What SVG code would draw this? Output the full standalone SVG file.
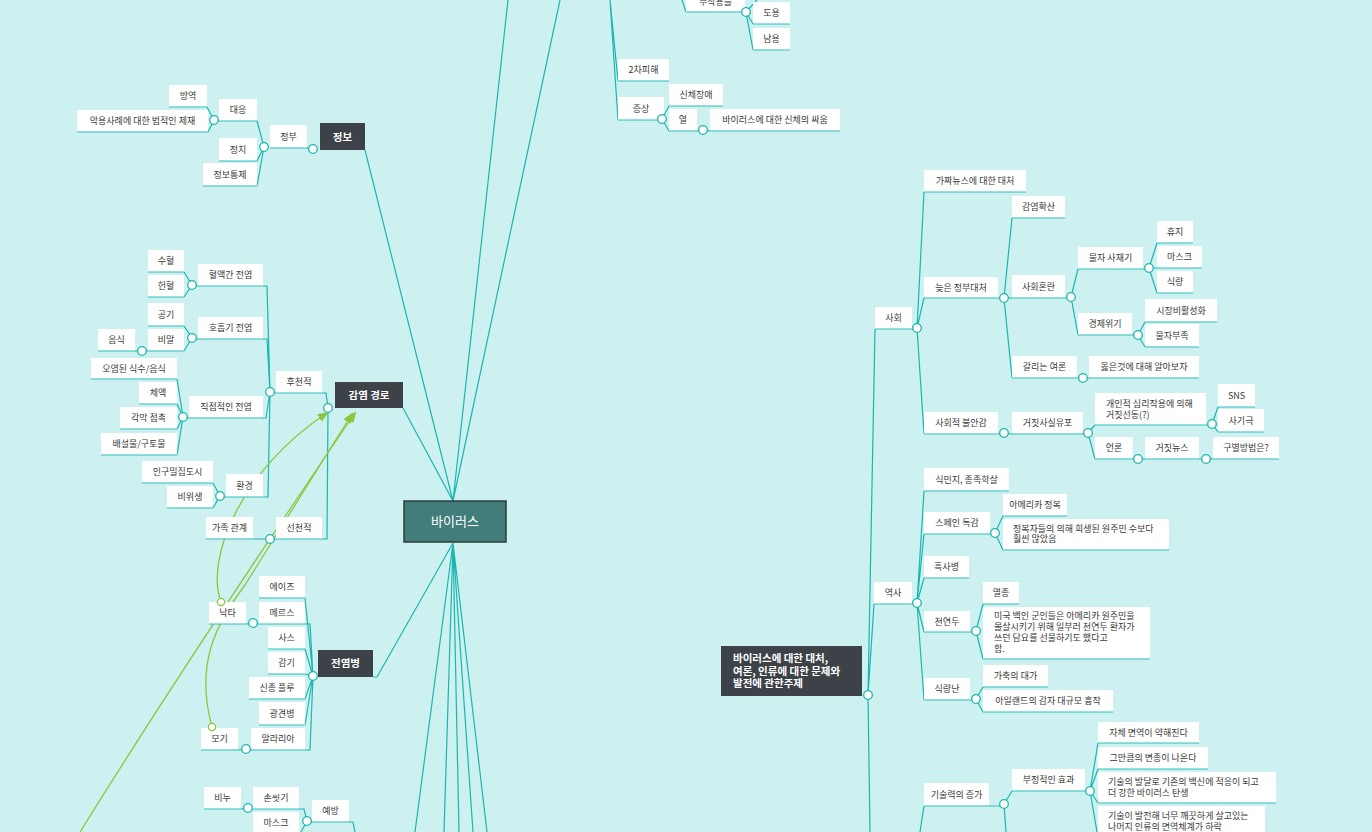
<svg xmlns="http://www.w3.org/2000/svg" width="1372" height="832" viewBox="0 0 1372 832">
<defs>
<style>
.bg{fill:#ccf1f0}
.b{fill:#fff}
.u{stroke:#2dc0ba;stroke-width:1.2}
.t{font-family:"Noto Sans CJK KR","Noto Sans",sans-serif;font-size:9px;fill:#383838;text-anchor:middle}
.tl{font-family:"Noto Sans CJK KR","Noto Sans",sans-serif;font-size:9px;fill:#383838}
.d{fill:#3d4249}
.dt{font-family:"Noto Sans CJK KR","Noto Sans",sans-serif;font-size:10.5px;font-weight:bold;fill:#fff;text-anchor:middle}
.dtl{font-family:"Noto Sans CJK KR","Noto Sans",sans-serif;font-size:10.5px;font-weight:bold;fill:#fff}
.l{stroke:#1cb5b0;stroke-width:1.2;fill:none}
.c{fill:#fff;stroke:#1cb5b0;stroke-width:1.3}
.g{stroke:#8cc63f;stroke-width:1.3;fill:none;marker-end:url(#ah)}
.gc{fill:#fff;stroke:#8cc63f;stroke-width:1.3}
</style>
<marker id="ah" markerWidth="11" markerHeight="9" refX="9" refY="4.5" orient="auto" markerUnits="userSpaceOnUse">
<path d="M0,0 L11,4.5 L0,9 z" fill="#8cc63f"/>
</marker>
</defs>
<rect class="bg" x="0" y="0" width="1372" height="832"/>

<g id="connectors">
<!-- root fan -->
<path class="l" d="M365,150 L453,501 M403,408 L453,501 M508,0 L453,501 M560,0 L453,501"/>
<path class="l" d="M453,543 L377,677 L373,677 M453,543 L415,832 M453,543 L444,832 M453,543 L459,832 M453,543 L473,832 M453,543 L487,832"/>
<!-- top -->
<path class="l" d="M610,0 L618,81 M610,0 L618,120 M662,119 L669,106 M662,119 L669,131 M703,130 L710,131"/>
<path class="l" d="M682,0 L686,12 M746,12 L753,24 M746,12 L753,50 M746,12 L757,0"/>
<!-- 정보 -->
<path class="l" d="M307,148 L313,149 M264,147 L257,121 M264,147 L257,161 M264,147 L257,186 M214,120 L207,107 M214,120 L208,132"/>
<!-- 감염 경로 -->
<path class="l" d="M322,393 L326,393 L328,408 M322,539 L327,539 L328,408"/>
<path class="l" d="M263,286 L267,286 L270,392 M263,339 L267,339 L270,392 M263,418 L266,418 L270,392 M263,497 L268,497 L270,392"/>
<path class="l" d="M192,285 L184,272 M192,285 L184,297 M192,338 L184,326 M192,338 L184,351 M142,351 L135,351"/>
<path class="l" d="M183,417 L177,379 M183,417 L177,404 M183,417 L177,429 M183,417 L177,455 M220,496 L213,483 M220,496 L213,508 M270,539 L253,539"/>
<!-- 전염병 -->
<path class="l" d="M313,676 L305,598 M305,624 L310,624 L313,676 M313,676 L305,649 M313,676 L305,674 M313,676 L305,699 M313,676 L305,725 M305,750 L310,750 L313,676"/>
<path class="l" d="M253,623 L246,624 M246,749 L238,750"/>
<path class="l" d="M349,822 L353,822 L355,832 M299,809 L304,809 L307,821 M307,821 L301,832 M248,808 L241,809"/>
<!-- right main -->
<path class="l" d="M868,695 L875,329 M868,695 L874,604 M868,695 L870,832"/>
<path class="l" d="M917,328 L924,192 M917,328 L924,298 M917,328 L924,434"/>
<path class="l" d="M1004,298 L1012,218 M1004,298 L1012,298 M1004,298 L1012,378"/>
<path class="l" d="M1071,297 L1078,269 M1071,297 L1078,335"/>
<path class="l" d="M1149,268 L1157,243 M1149,268 L1157,268 M1149,268 L1157,293 M1138,335 L1145,322 M1138,335 L1145,347 M1083,378 L1089,378"/>
<path class="l" d="M1004,433 L1012,434 M1088,433 L1095,425 M1088,433 L1095,459 M1212,424 L1218,407 M1212,424 L1218,432 M1138,459 L1145,459 M1206,459 L1213,459"/>
<path class="l" d="M917,603 L924,491 M917,603 L924,534 M917,603 L924,578 M917,603 L924,632 M917,603 L924,700"/>
<path class="l" d="M995,533 L1003,516 M995,533 L1003,550 M976,631 L983,604 M976,631 L983,659 M976,699 L983,687 M976,699 L983,712"/>
<path class="l" d="M924,806 L920,832 M1004,804 L1012,791 M1004,804 L1006,832 M1090,791 L1098,743 M1090,791 L1098,769 M1090,791 L1098,803 M1090,791 L1097,832"/>
</g>

<g id="relations">
<path class="g" d="M221,602 C205,560 240,470 327,413"/>
<path class="g" d="M212,727 C195,665 215,625 245,585 L352,414"/>
<path class="g" d="M80,832 Q190,655 355,413"/>
</g>

<g id="root"><rect x="404" y="501" width="102" height="41" fill="#407d7b" stroke="#2e3d3d" stroke-width="1.5"/><text x="455" y="526" font-family="Noto Sans CJK KR, Noto Sans, sans-serif" font-size="13" fill="#fff" text-anchor="middle">바이러스</text></g>

<g id="n-bujak"><rect class="b" x="686" y="-10" width="59" height="22"/><line class="u" x1="686" y1="12" x2="745" y2="12"/><text class="t" x="715.5" y="4.5">부작용들</text><circle class="c" cx="746" cy="12" r="4.3"/></g>
<g id="n-doyong"><rect class="b" x="753" y="2" width="37" height="22"/><line class="u" x1="753" y1="24" x2="790" y2="24"/><text class="t" x="771.5" y="16.2">도용</text></g>
<g id="n-namyong"><rect class="b" x="753" y="28" width="37" height="22"/><line class="u" x1="753" y1="50" x2="790" y2="50"/><text class="t" x="771.5" y="42.2">남용</text></g>
<g id="n-2cha"><rect class="b" x="618" y="59" width="51" height="22"/><line class="u" x1="618" y1="81" x2="669" y2="81"/><text class="t" x="643.5" y="73.2">2차피해</text></g>
<g id="n-jeungsang"><rect class="b" x="618" y="97" width="46" height="23"/><line class="u" x1="618" y1="120" x2="664" y2="120"/><text class="t" x="641" y="111.7">증상</text><circle class="c" cx="662" cy="119" r="4.3"/></g>
<g id="n-sinche"><rect class="b" x="669" y="84" width="54" height="22"/><line class="u" x1="669" y1="106" x2="723" y2="106"/><text class="t" x="696" y="98.2">신체장애</text></g>
<g id="n-yeol"><rect class="b" x="669" y="109" width="28" height="22"/><line class="u" x1="669" y1="131" x2="703" y2="131"/><text class="t" x="683" y="123.2">열</text><circle class="c" cx="703" cy="130" r="4.3"/></g>
<g id="n-ssaum"><rect class="b" x="710" y="109" width="130" height="22"/><line class="u" x1="710" y1="131" x2="840" y2="131"/><text class="t" x="775" y="123.2">바이러스에 대한 신체의 싸움</text></g>

<g id="n-jeongbo"><rect class="d" x="320" y="123" width="45" height="27"/><text class="dt" x="342.5" y="140.5">정보</text><circle class="c" cx="313" cy="149" r="4.3"/></g>
<g id="n-jeongbu"><rect class="b" x="270" y="125" width="37" height="23"/><line class="u" x1="270" y1="148" x2="309" y2="148"/><text class="t" x="288.5" y="139.7">정부</text><circle class="c" cx="264" cy="147" r="4.3"/></g>
<g id="n-daeeung"><rect class="b" x="219" y="99" width="38" height="22"/><line class="u" x1="214" y1="121" x2="257" y2="121"/><text class="t" x="238" y="113.2">대응</text><circle class="c" cx="214" cy="120" r="4.3"/></g>
<g id="n-bangyeok"><rect class="b" x="169" y="85" width="38" height="22"/><line class="u" x1="169" y1="107" x2="207" y2="107"/><text class="t" x="188" y="99.2">방역</text></g>
<g id="n-aknyong"><rect class="b" x="77" y="110" width="131" height="22"/><line class="u" x1="77" y1="132" x2="208" y2="132"/><text class="t" x="142.5" y="124.2">악용사례에 대한 법적인 제재</text></g>
<g id="n-jeongchi"><rect class="b" x="219" y="138" width="38" height="23"/><line class="u" x1="219" y1="161" x2="257" y2="161"/><text class="t" x="238" y="152.7">정치</text></g>
<g id="n-tongje"><rect class="b" x="203" y="163" width="54" height="23"/><line class="u" x1="203" y1="186" x2="257" y2="186"/><text class="t" x="230" y="177.7">정보통제</text></g>

<g id="n-gamyeom"><rect class="d" x="335" y="382" width="68" height="26"/><text class="dt" x="369" y="398.8">감염 경로</text></g>
<g id="n-hucheon"><rect class="b" x="276" y="371" width="46" height="22"/><line class="u" x1="270" y1="393" x2="322" y2="393"/><text class="t" x="299" y="385.2">후천적</text><circle class="c" cx="270" cy="392" r="4.3"/></g>
<g id="n-hyeolaek"><rect class="b" x="198" y="264" width="65" height="22"/><line class="u" x1="192" y1="286" x2="263" y2="286"/><text class="t" x="230.5" y="278.2">혈액간 전염</text><circle class="c" cx="192" cy="285" r="4.3"/></g>
<g id="n-hoheup"><rect class="b" x="198" y="317" width="65" height="22"/><line class="u" x1="192" y1="339" x2="263" y2="339"/><text class="t" x="230.5" y="331.2">호흡기 전염</text><circle class="c" cx="192" cy="338" r="4.3"/></g>
<g id="n-jikjeop"><rect class="b" x="189" y="396" width="74" height="22"/><line class="u" x1="183" y1="418" x2="263" y2="418"/><text class="t" x="226" y="410.2">직접적인 전염</text><circle class="c" cx="183" cy="417" r="4.3"/></g>
<g id="n-hwangyeong"><rect class="b" x="226" y="474" width="37" height="23"/><line class="u" x1="220" y1="497" x2="263" y2="497"/><text class="t" x="244.5" y="488.7">환경</text><circle class="c" cx="220" cy="496" r="4.3"/></g>
<g id="n-suhyeol"><rect class="b" x="148" y="250" width="36" height="22"/><line class="u" x1="148" y1="272" x2="184" y2="272"/><text class="t" x="166" y="264.2">수혈</text></g>
<g id="n-heonhyeol"><rect class="b" x="148" y="275" width="36" height="22"/><line class="u" x1="148" y1="297" x2="184" y2="297"/><text class="t" x="166" y="289.2">헌혈</text></g>
<g id="n-gonggi"><rect class="b" x="148" y="303" width="36" height="23"/><line class="u" x1="148" y1="326" x2="184" y2="326"/><text class="t" x="166" y="317.7">공기</text></g>
<g id="n-bimal"><rect class="b" x="148" y="329" width="36" height="22"/><line class="u" x1="142" y1="351" x2="184" y2="351"/><text class="t" x="166" y="343.2">비말</text><circle class="c" cx="142" cy="351" r="4.3"/></g>
<g id="n-eumsik"><rect class="b" x="98" y="329" width="37" height="22"/><line class="u" x1="98" y1="351" x2="135" y2="351"/><text class="t" x="116.5" y="343.2">음식</text></g>
<g id="n-oyeom"><rect class="b" x="91" y="358" width="86" height="21"/><line class="u" x1="91" y1="379" x2="177" y2="379"/><text class="t" x="134" y="371.7">오염된 식수/음식</text></g>
<g id="n-cheaek"><rect class="b" x="139" y="382" width="38" height="22"/><line class="u" x1="139" y1="404" x2="177" y2="404"/><text class="t" x="158" y="396.2">체액</text></g>
<g id="n-gakmak"><rect class="b" x="120" y="407" width="57" height="22"/><line class="u" x1="120" y1="429" x2="177" y2="429"/><text class="t" x="148.5" y="421.2">각막 접촉</text></g>
<g id="n-baeseol"><rect class="b" x="101" y="433" width="76" height="22"/><line class="u" x1="101" y1="455" x2="177" y2="455"/><text class="t" x="139" y="447.2">배설물/구토물</text></g>
<g id="n-ingu"><rect class="b" x="142" y="461" width="71" height="22"/><line class="u" x1="142" y1="483" x2="213" y2="483"/><text class="t" x="177.5" y="475.2">인구밀집도시</text></g>
<g id="n-biwisaeng"><rect class="b" x="167" y="486" width="46" height="22"/><line class="u" x1="167" y1="508" x2="213" y2="508"/><text class="t" x="190" y="500.2">비위생</text></g>
<g id="n-seoncheon"><rect class="b" x="276" y="517" width="46" height="22"/><line class="u" x1="270" y1="539" x2="322" y2="539"/><text class="t" x="299" y="531.2">선천적</text><circle class="c" cx="270" cy="539" r="4.3"/></g>
<g id="n-gajok"><rect class="b" x="206" y="517" width="47" height="22"/><line class="u" x1="206" y1="539" x2="253" y2="539"/><text class="t" x="229.5" y="531.2">가족 관계</text></g>
<circle class="c" cx="328" cy="408" r="4.3"/>

<g id="n-jeonyeom"><rect class="d" x="318" y="650" width="55" height="27"/><text class="dt" x="345.5" y="667.3">전염병</text><circle class="c" cx="313" cy="676" r="4.3"/></g>
<g id="n-aids"><rect class="b" x="259" y="576" width="46" height="22"/><line class="u" x1="259" y1="598" x2="305" y2="598"/><text class="t" x="282" y="590.2">에이즈</text></g>
<g id="n-mers"><rect class="b" x="259" y="602" width="46" height="22"/><line class="u" x1="253" y1="624" x2="305" y2="624"/><text class="t" x="282" y="616.2">메르스</text><circle class="c" cx="253" cy="623" r="4.3"/></g>
<g id="n-sars"><rect class="b" x="268" y="627" width="37" height="22"/><line class="u" x1="268" y1="649" x2="305" y2="649"/><text class="t" x="286.5" y="641.2">사스</text></g>
<g id="n-gamgi"><rect class="b" x="268" y="652" width="37" height="22"/><line class="u" x1="268" y1="674" x2="305" y2="674"/><text class="t" x="286.5" y="666.2">감기</text></g>
<g id="n-flu"><rect class="b" x="249" y="677" width="56" height="22"/><line class="u" x1="249" y1="699" x2="305" y2="699"/><text class="t" x="277" y="691.2">신종 플루</text></g>
<g id="n-gwanggyeon"><rect class="b" x="259" y="702" width="46" height="23"/><line class="u" x1="259" y1="725" x2="305" y2="725"/><text class="t" x="282" y="716.7">광견병</text></g>
<g id="n-malaria"><rect class="b" x="251" y="728" width="54" height="22"/><line class="u" x1="246" y1="750" x2="305" y2="750"/><text class="t" x="278" y="742.2">말라리아</text><circle class="c" cx="246" cy="749" r="4.3"/></g>
<g id="n-nakta"><rect class="b" x="209" y="602" width="37" height="22"/><line class="u" x1="209" y1="624" x2="246" y2="624"/><text class="t" x="227.5" y="616.2">낙타</text><circle class="gc" cx="221" cy="602" r="3.6"/></g>
<g id="n-mogi"><rect class="b" x="201" y="728" width="37" height="22"/><line class="u" x1="201" y1="750" x2="238" y2="750"/><text class="t" x="219.5" y="742.2">모기</text><circle class="gc" cx="212" cy="727" r="3.6"/></g>
<g id="n-yebang"><rect class="b" x="312" y="800" width="37" height="22"/><line class="u" x1="307" y1="822" x2="349" y2="822"/><text class="t" x="330.5" y="814.2">예방</text><circle class="c" cx="307" cy="821" r="4.3"/></g>
<g id="n-sonssit"><rect class="b" x="253" y="787" width="46" height="22"/><line class="u" x1="248" y1="809" x2="299" y2="809"/><text class="t" x="276" y="801.2">손씻기</text><circle class="c" cx="248" cy="808" r="4.3"/></g>
<g id="n-binu"><rect class="b" x="204" y="787" width="37" height="22"/><line class="u" x1="204" y1="809" x2="241" y2="809"/><text class="t" x="222.5" y="801.2">비누</text></g>
<g id="n-mask1"><rect class="b" x="253" y="812" width="46" height="24"/><text class="t" x="276" y="826.2">마스크</text></g>

<g id="n-main"><rect class="d" x="721" y="646" width="141" height="50"/><text class="dtl" x="733" y="662">바이러스에 대한 대처,</text><text class="dtl" x="733" y="674.5">여론, 인류에 대한 문제와</text><text class="dtl" x="733" y="687">발전에 관한주제</text><circle class="c" cx="868" cy="695" r="4.3"/></g>

<g id="n-sahoe"><rect class="b" x="875" y="307" width="37" height="22"/><line class="u" x1="875" y1="329" x2="917" y2="329"/><text class="t" x="893.5" y="321.2">사회</text><circle class="c" cx="917" cy="328" r="4.3"/></g>
<g id="n-gajja"><rect class="b" x="924" y="170" width="102" height="22"/><line class="u" x1="924" y1="192" x2="1026" y2="192"/><text class="t" x="975" y="184.2">가짜뉴스에 대한 대처</text></g>
<g id="n-neujeun"><rect class="b" x="924" y="277" width="74" height="21"/><line class="u" x1="924" y1="298" x2="1004" y2="298"/><text class="t" x="961" y="290.7">늦은 정부대처</text><circle class="c" cx="1004" cy="298" r="4.3"/></g>
<g id="n-bulan"><rect class="b" x="924" y="412" width="74" height="22"/><line class="u" x1="924" y1="434" x2="1004" y2="434"/><text class="t" x="961" y="426.2">사회적 불안감</text><circle class="c" cx="1004" cy="433" r="4.3"/></g>
<g id="n-hwaksan"><rect class="b" x="1012" y="196" width="53" height="22"/><line class="u" x1="1012" y1="218" x2="1065" y2="218"/><text class="t" x="1038.5" y="210.2">감염확산</text></g>
<g id="n-honran"><rect class="b" x="1012" y="275" width="53" height="23"/><line class="u" x1="1012" y1="298" x2="1071" y2="298"/><text class="t" x="1038.5" y="289.7">사회혼란</text><circle class="c" cx="1071" cy="297" r="4.3"/></g>
<g id="n-yeoron"><rect class="b" x="1012" y="356" width="65" height="22"/><line class="u" x1="1012" y1="378" x2="1083" y2="378"/><text class="t" x="1044.5" y="370.2">갈리는 여론</text><circle class="c" cx="1083" cy="378" r="4.3"/></g>
<g id="n-olbeun"><rect class="b" x="1089" y="356" width="110" height="22"/><line class="u" x1="1089" y1="378" x2="1199" y2="378"/><text class="t" x="1144" y="370.2">옳은것에 대해 알아보자</text></g>
<g id="n-sajaegi"><rect class="b" x="1078" y="247" width="65" height="22"/><line class="u" x1="1078" y1="269" x2="1149" y2="269"/><text class="t" x="1110.5" y="261.2">물자 사재기</text><circle class="c" cx="1149" cy="268" r="4.3"/></g>
<g id="n-gyeongje"><rect class="b" x="1078" y="313" width="54" height="22"/><line class="u" x1="1078" y1="335" x2="1138" y2="335"/><text class="t" x="1105" y="327.2">경제위기</text><circle class="c" cx="1138" cy="335" r="4.3"/></g>
<g id="n-hyuji"><rect class="b" x="1157" y="221" width="36" height="22"/><line class="u" x1="1157" y1="243" x2="1193" y2="243"/><text class="t" x="1175" y="235.2">휴지</text></g>
<g id="n-mask2"><rect class="b" x="1157" y="246" width="45" height="22"/><line class="u" x1="1157" y1="268" x2="1202" y2="268"/><text class="t" x="1179.5" y="260.2">마스크</text></g>
<g id="n-sikryang"><rect class="b" x="1157" y="271" width="36" height="22"/><line class="u" x1="1157" y1="293" x2="1193" y2="293"/><text class="t" x="1175" y="285.2">식량</text></g>
<g id="n-sijang"><rect class="b" x="1145" y="299" width="72" height="23"/><line class="u" x1="1145" y1="322" x2="1217" y2="322"/><text class="t" x="1181" y="313.7">시장비활성화</text></g>
<g id="n-bujok"><rect class="b" x="1145" y="324" width="54" height="23"/><line class="u" x1="1145" y1="347" x2="1199" y2="347"/><text class="t" x="1172" y="338.7">물자부족</text></g>
<g id="n-geojitsasil"><rect class="b" x="1012" y="412" width="71" height="22"/><line class="u" x1="1012" y1="434" x2="1088" y2="434"/><text class="t" x="1047.5" y="426.2">거짓사실유포</text><circle class="c" cx="1088" cy="433" r="4.3"/></g>
<g id="n-gaein"><rect class="b" x="1095" y="393" width="111" height="32"/><line class="u" x1="1095" y1="425" x2="1212" y2="425"/><text class="tl" x="1106" y="407">개인적 심리작용에 의해</text><text class="tl" x="1106" y="417.5">거짓선동(?)</text><circle class="c" cx="1212" cy="424" r="4.3"/></g>
<g id="n-sns"><rect class="b" x="1218" y="384" width="37" height="23"/><line class="u" x1="1218" y1="407" x2="1255" y2="407"/><text class="t" x="1236.5" y="398.7">SNS</text></g>
<g id="n-sagiguk"><rect class="b" x="1218" y="409" width="46" height="23"/><line class="u" x1="1218" y1="432" x2="1264" y2="432"/><text class="t" x="1241" y="423.7">사기극</text></g>
<g id="n-eonron"><rect class="b" x="1095" y="437" width="38" height="22"/><line class="u" x1="1095" y1="459" x2="1138" y2="459"/><text class="t" x="1114" y="451.2">언론</text><circle class="c" cx="1138" cy="459" r="4.3"/></g>
<g id="n-geojitnews"><rect class="b" x="1145" y="437" width="54" height="22"/><line class="u" x1="1145" y1="459" x2="1206" y2="459"/><text class="t" x="1172" y="451.2">거짓뉴스</text><circle class="c" cx="1206" cy="459" r="4.3"/></g>
<g id="n-gubyeol"><rect class="b" x="1213" y="437" width="66" height="22"/><line class="u" x1="1213" y1="459" x2="1279" y2="459"/><text class="t" x="1246" y="451.2">구별방법은?</text></g>

<g id="n-yeoksa"><rect class="b" x="874" y="582" width="38" height="22"/><line class="u" x1="874" y1="604" x2="917" y2="604"/><text class="t" x="893" y="596.2">역사</text><circle class="c" cx="917" cy="603" r="4.3"/></g>
<g id="n-sikminji"><rect class="b" x="924" y="468" width="85" height="23"/><line class="u" x1="924" y1="491" x2="1009" y2="491"/><text class="t" x="966.5" y="482.7">식민지, 종족학살</text></g>
<g id="n-spain"><rect class="b" x="924" y="512" width="66" height="22"/><line class="u" x1="924" y1="534" x2="995" y2="534"/><text class="t" x="957" y="526.2">스페인 독감</text><circle class="c" cx="995" cy="533" r="4.3"/></g>
<g id="n-heuksa"><rect class="b" x="924" y="556" width="45" height="22"/><line class="u" x1="924" y1="578" x2="969" y2="578"/><text class="t" x="946.5" y="570.2">흑사병</text></g>
<g id="n-cheonyeondu"><rect class="b" x="924" y="611" width="46" height="21"/><line class="u" x1="924" y1="632" x2="976" y2="632"/><text class="t" x="947" y="624.7">천연두</text><circle class="c" cx="976" cy="631" r="4.3"/></g>
<g id="n-sikryangnan"><rect class="b" x="924" y="678" width="46" height="22"/><line class="u" x1="924" y1="700" x2="976" y2="700"/><text class="t" x="947" y="692.2">식량난</text><circle class="c" cx="976" cy="699" r="4.3"/></g>
<g id="n-america"><rect class="b" x="1003" y="494" width="64" height="22"/><line class="u" x1="1003" y1="516" x2="1067" y2="516"/><text class="t" x="1035" y="508.2">아메리카 정복</text></g>
<g id="n-jeongbokja"><rect class="b" x="1003" y="519" width="166" height="31"/><line class="u" x1="1003" y1="550" x2="1169" y2="550"/><text class="tl" x="1013" y="531.5">정복자들의 의해 희생된 원주민 수보다</text><text class="tl" x="1013" y="542">훨씬 많았음</text></g>
<g id="n-myeoljong"><rect class="b" x="983" y="582" width="36" height="22"/><line class="u" x1="983" y1="604" x2="1019" y2="604"/><text class="t" x="1001" y="596.2">멸종</text></g>
<g id="n-miguk"><rect class="b" x="983" y="607" width="167" height="52"/><line class="u" x1="983" y1="659" x2="1150" y2="659"/><text class="tl" x="994" y="619">미국 백인 군인들은 아메리카 원주민을</text><text class="tl" x="994" y="630">몰살시키기 위해 일부러 천연두 환자가</text><text class="tl" x="994" y="641">쓰던 담요를 선물하기도 했다고</text><text class="tl" x="994" y="651.5">함.</text></g>
<g id="n-gachuk"><rect class="b" x="983" y="665" width="65" height="22"/><line class="u" x1="983" y1="687" x2="1048" y2="687"/><text class="t" x="1015.5" y="679.2">가축의 대가</text></g>
<g id="n-ireland"><rect class="b" x="983" y="690" width="130" height="22"/><line class="u" x1="983" y1="712" x2="1113" y2="712"/><text class="t" x="1048" y="704.2">아일랜드의 감자 대규모 흉작</text></g>

<g id="n-gisul"><rect class="b" x="924" y="783" width="65" height="23"/><line class="u" x1="924" y1="806" x2="1004" y2="806"/><text class="t" x="956.5" y="797.7">기술력의 증가</text><circle class="c" cx="1004" cy="804" r="4.3"/></g>
<g id="n-bujeong"><rect class="b" x="1012" y="769" width="73" height="22"/><line class="u" x1="1012" y1="791" x2="1090" y2="791"/><text class="t" x="1048.5" y="783.2">부정적인 효과</text><circle class="c" cx="1090" cy="791" r="4.3"/></g>
<g id="n-myeonyeok"><rect class="b" x="1098" y="722" width="101" height="21"/><line class="u" x1="1098" y1="743" x2="1199" y2="743"/><text class="t" x="1148.5" y="735.7">자체 면역이 약해진다</text></g>
<g id="n-byeonjong"><rect class="b" x="1098" y="747" width="110" height="22"/><line class="u" x1="1098" y1="769" x2="1208" y2="769"/><text class="t" x="1153" y="761.2">그만큼의 변종이 나온다</text></g>
<g id="n-baldal"><rect class="b" x="1098" y="772" width="178" height="31"/><line class="u" x1="1098" y1="803" x2="1276" y2="803"/><text class="tl" x="1108" y="785">기술의 발달로 기존의 백신에 적응이 되고</text><text class="tl" x="1108" y="795.5">더 강한 바이러스 탄생</text></g>
<g id="n-kkaekkeut"><rect class="b" x="1098" y="806" width="167" height="34"/><text class="tl" x="1108" y="819">기술이 발전해 너무 깨끗하게 살고있는</text><text class="tl" x="1108" y="829.5">나머지 인류의 면역체계가 하락</text></g>
</svg>
